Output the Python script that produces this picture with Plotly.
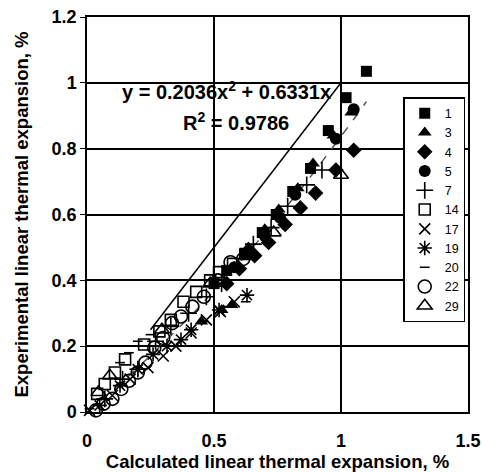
import plotly.graph_objects as go
import numpy as np

# ---- data ----
s1_x = [1.10, 1.02, 0.95, 0.88, 0.81, 0.745, 0.69, 0.62, 0.55, 0.50]
s1_y = [1.035, 0.955, 0.855, 0.74, 0.67, 0.60, 0.545, 0.48, 0.43, 0.39]
s3_x = [1.04, 0.97, 0.89, 0.83, 0.755, 0.70, 0.635, 0.58, 0.57, 0.53, 0.45]
s3_y = [0.91, 0.84, 0.755, 0.68, 0.615, 0.555, 0.50, 0.44, 0.325, 0.31, 0.275]
s4_x = [1.05, 0.98, 0.90, 0.84, 0.78, 0.715, 0.66, 0.60, 0.55]
s4_y = [0.795, 0.735, 0.665, 0.62, 0.57, 0.515, 0.475, 0.435, 0.39]
s5_x = [1.05, 0.98, 0.82, 0.76, 0.70, 0.64, 0.58]
s5_y = [0.92, 0.83, 0.66, 0.59, 0.535, 0.49, 0.44]
s7_x = [0.925, 0.865, 0.79, 0.725, 0.655, 0.53, 0.47, 0.40, 0.33, 0.27, 0.20, 0.14, 0.07]
s7_y = [0.735, 0.69, 0.625, 0.56, 0.51, 0.39, 0.35, 0.30, 0.26, 0.215, 0.13, 0.10, 0.04]
s14_x = [0.625, 0.575, 0.52, 0.485, 0.43, 0.38, 0.33, 0.285, 0.225, 0.15, 0.11, 0.07, 0.04]
s14_y = [0.48, 0.45, 0.425, 0.40, 0.365, 0.335, 0.28, 0.245, 0.205, 0.16, 0.12, 0.085, 0.055]
s17_x = [0.58, 0.525, 0.47, 0.41, 0.35, 0.30, 0.24, 0.17, 0.10, 0.01]
s17_y = [0.335, 0.305, 0.28, 0.24, 0.20, 0.17, 0.135, 0.10, 0.05, 0.005]
s19_x = [0.63, 0.52, 0.41, 0.37, 0.315, 0.26, 0.20, 0.13, 0.05]
s19_y = [0.355, 0.31, 0.25, 0.22, 0.20, 0.175, 0.13, 0.08, 0.02]
s20_x = [0.625, 0.555, 0.46, 0.25, 0.20, 0.165, 0.13, 0.01]
s20_y = [0.335, 0.32, 0.275, 0.235, 0.215, 0.18, 0.15, 0.01]
s22_x = [0.615, 0.565, 0.515, 0.46, 0.415, 0.37, 0.335, 0.30, 0.265, 0.23, 0.20, 0.165, 0.135, 0.10, 0.065, 0.035]
s22_y = [0.465, 0.455, 0.40, 0.35, 0.32, 0.29, 0.27, 0.225, 0.195, 0.15, 0.12, 0.095, 0.07, 0.04, 0.025, 0.005]
s29_x = [1.00, 0.735, 0.485, 0.295, 0.09, 0.045]
s29_y = [0.72, 0.545, 0.39, 0.25, 0.11, 0.06]

series = [
    ("1", s1_x, s1_y, "square", 11),
    ("3", s3_x, s3_y, "triangle-up", 12),
    ("4", s4_x, s4_y, "diamond", 12),
    ("5", s5_x, s5_y, "circle", 12),
    ("7", s7_x, s7_y, "cross-thin-open", 12),
    ("14", s14_x, s14_y, "square-open", 11),
    ("17", s17_x, s17_y, "x-thin-open", 11),
    ("19", s19_x, s19_y, "asterisk-open", 12),
    ("20", s20_x, s20_y, "line-ew-open", 7),
    ("22", s22_x, s22_y, "circle-open", 13),
    ("29", s29_x, s29_y, "triangle-up-open", 13),
]

trend_a, trend_b = 0.2036, 0.6331
trend_range = [0.0, 1.1]
ref_line_x = [0.25, 1.0]
ref_line_y = [0.25, 1.0]

x_ticks = [0, 0.5, 1, 1.5]
y_ticks = [0, 0.2, 0.4, 0.6, 0.8, 1, 1.2]

fig = go.Figure()

tx = np.linspace(trend_range[0], trend_range[1], 50)
fig.add_trace(go.Scatter(x=tx, y=trend_a * tx**2 + trend_b * tx, mode="lines",
                         line=dict(color="#555555", width=1.5, dash="dash"),
                         showlegend=False, hoverinfo="skip"))
fig.add_trace(go.Scatter(x=ref_line_x, y=ref_line_y, mode="lines",
                         line=dict(color="black", width=1.5),
                         showlegend=False, hoverinfo="skip"))

for name, xs, ys, sym, sz in series:
    open_ = sym.endswith("open")
    fig.add_trace(go.Scatter(
        x=xs, y=ys, mode="markers", name=name, cliponaxis=False,
        marker=dict(symbol=sym, size=sz, color="black",
                    line=dict(color="black", width=1.6 if open_ else 0)),
    ))

fig.add_annotation(x=0.55, y=0.976, xref="x", yref="y",
                   text="<b>y = 0.2036x<sup>2</sup> + 0.6331x</b>",
                   showarrow=False, font=dict(family="Liberation Sans", size=20, color="black"))
fig.add_annotation(x=0.585, y=0.884, xref="x", yref="y",
                   text="<b>R<sup>2</sup> = 0.9786</b>",
                   showarrow=False, font=dict(family="Liberation Sans", size=20, color="black"))

fig.update_layout(
    width=482, height=472,
    margin=dict(l=87, r=14, t=17, b=60, autoexpand=False),
    paper_bgcolor="white", plot_bgcolor="white",
    font=dict(family="Liberation Sans", color="black"),
    legend=dict(x=0.83, y=0.797, xanchor="left", yanchor="top",
                bordercolor="black", borderwidth=1.5, bgcolor="white",
                font=dict(size=12.5, family="Liberation Sans"),
                tracegroupgap=0, itemwidth=30),
    showlegend=True,
)
fig.update_xaxes(range=[0, 1.5], tickvals=x_ticks, ticktext=[f"<b>{v:g}</b>" for v in x_ticks],
                 automargin=False,
                 showgrid=True, gridcolor="black", gridwidth=1.5,
                 showline=True, linecolor="black", linewidth=1.5, mirror=True,
                 zeroline=False, ticks="", ticklabelstandoff=12,
                 tickfont=dict(size=18, family="Liberation Sans"),
                 title=dict(text="<b>Calculated linear thermal expansion, %</b>",
                            font=dict(size=18.5), standoff=6))
fig.update_yaxes(range=[0, 1.2], tickvals=y_ticks, ticktext=[f"<b>{v:g}</b>" for v in y_ticks],
                 automargin=False,
                 showgrid=True, gridcolor="black", gridwidth=1.5,
                 showline=True, linecolor="black", linewidth=1.5, mirror=True,
                 zeroline=False, ticks="outside", ticklen=5, tickcolor="black",
                 tickfont=dict(size=18, family="Liberation Sans"),
                 title=dict(text="<b>Experimental linear thermal expansion, %</b>",
                            font=dict(size=18.5), standoff=18))

fig.write_html("out.html")
